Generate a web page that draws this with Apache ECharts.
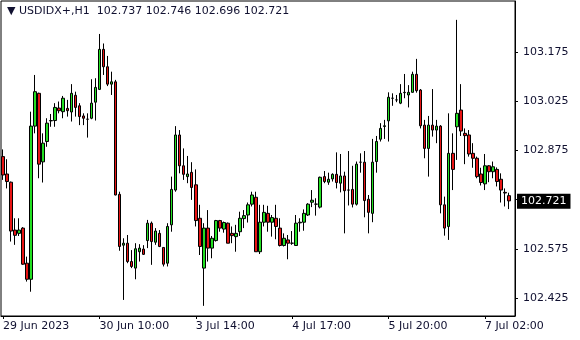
<!DOCTYPE html>
<html>
<head>
<meta charset="utf-8">
<script src="https://cdn.jsdelivr.net/npm/echarts@6/dist/echarts.min.js"></script>
<style>html,body{margin:0;padding:0;background:#fff}#c{width:580px;height:340px}</style>
</head>
<body>
<div id="c"></div>
<script>
const symbolName = 'USDIDX+,H1';
const opens = [102.856,102.803,102.778,102.632,102.622,102.638,102.531,102.482,102.949,103.049,
102.840,102.902,102.965,102.966,103.004,102.993,103.003,102.992,103.043,103.011,
102.980,102.970,102.973,103.022,103.061,103.183,103.130,103.077,103.084,102.741,
102.586,102.592,102.536,102.516,102.566,102.574,102.600,102.653,102.595,102.622,
102.579,102.531,102.648,102.754,102.922,102.828,102.795,102.808,102.770,102.668,
102.516,102.638,102.577,102.600,102.661,102.635,102.653,102.622,102.612,102.627,
102.667,102.678,102.711,102.732,102.566,102.656,102.683,102.656,102.668,102.638,
102.585,102.602,102.592,102.585,102.654,102.656,102.678,102.717,102.711,102.702,
102.795,102.778,102.788,102.802,102.775,102.797,102.754,102.756,102.711,102.839,
102.839,102.726,102.683,102.841,102.909,102.948,102.965,103.034,103.029,103.019,
103.051,103.044,103.052,103.107,103.059,102.952,102.881,102.952,102.937,102.949,
102.709,102.643,102.866,102.947,102.998,102.927,102.922,102.866,102.851,102.803,
102.773,102.828,102.810,102.817,102.787,102.747,102.737];
const highs = [102.878,102.848,102.780,102.668,102.668,102.641,102.551,102.993,103.105,103.051,
102.927,102.973,102.986,103.019,103.024,103.041,103.029,103.077,103.054,103.019,
102.988,102.988,103.092,103.095,103.230,103.201,103.163,103.115,103.090,102.749,
102.607,102.617,102.571,102.592,102.589,102.586,102.663,102.658,102.638,102.632,
102.580,102.653,102.795,102.949,102.937,102.881,102.858,102.839,102.817,102.709,
102.653,102.693,102.614,102.663,102.663,102.658,102.655,102.643,102.648,102.688,
102.693,102.716,102.749,102.749,102.709,102.709,102.706,102.678,102.709,102.668,
102.622,102.617,102.629,102.678,102.668,102.695,102.714,102.754,102.729,102.795,
102.812,102.807,102.805,102.869,102.864,102.810,102.873,102.828,102.841,102.866,
102.873,102.739,102.910,102.919,102.958,102.968,103.052,103.049,103.044,103.077,
103.108,103.074,103.115,103.154,103.062,102.968,102.980,103.062,102.968,102.952,
102.734,102.988,102.927,103.273,103.077,102.942,102.937,102.897,102.856,102.822,
102.864,102.830,102.841,102.823,102.805,102.759,102.746];
const lows = [102.785,102.759,102.597,102.587,102.614,102.526,102.475,102.444,102.927,102.790,
102.777,102.886,102.947,102.947,102.988,102.973,102.978,102.963,102.978,102.952,
102.952,102.914,102.970,102.966,103.059,103.105,103.071,103.044,102.738,102.569,
102.419,102.531,102.516,102.482,102.536,102.556,102.577,102.526,102.587,102.580,
102.521,102.521,102.627,102.749,102.805,102.785,102.775,102.724,102.643,102.556,
102.401,102.536,102.546,102.597,102.627,102.624,102.592,102.592,102.566,102.614,
102.638,102.655,102.704,102.566,102.559,102.643,102.627,102.612,102.604,102.582,
102.582,102.543,102.587,102.585,102.627,102.630,102.675,102.702,102.676,102.698,
102.775,102.770,102.780,102.759,102.747,102.622,102.707,102.701,102.707,102.807,
102.671,102.622,102.656,102.807,102.902,102.910,102.902,103.011,103.022,103.016,
103.034,103.006,103.051,103.051,102.942,102.851,102.795,102.917,102.897,102.683,
102.615,102.602,102.754,102.846,102.919,102.833,102.856,102.822,102.790,102.768,
102.754,102.778,102.790,102.765,102.716,102.704,102.696];
const closes = [102.800,102.780,102.629,102.616,102.632,102.528,102.482,102.949,103.054,102.833,
102.897,102.958,102.966,103.006,102.996,103.034,102.996,103.049,103.006,102.978,
102.973,102.970,103.019,103.067,103.183,103.130,103.077,103.084,102.739,102.582,
102.592,102.536,102.521,102.575,102.577,102.558,102.653,102.597,102.629,102.582,
102.528,102.643,102.756,102.922,102.828,102.802,102.803,102.762,102.661,102.582,
102.638,102.577,102.607,102.661,102.638,102.655,102.592,102.615,102.622,102.668,
102.676,102.709,102.739,102.566,102.656,102.686,102.656,102.670,102.643,102.585,
102.607,102.592,102.592,102.653,102.656,102.683,102.711,102.723,102.711,102.793,
102.780,102.787,102.802,102.777,102.797,102.752,102.754,102.711,102.833,102.839,
102.722,102.686,102.839,102.902,102.942,102.950,103.037,103.034,103.029,103.049,
103.052,103.052,103.107,103.057,102.950,102.881,102.952,102.937,102.949,102.709,
102.638,102.866,102.817,102.988,102.934,102.920,102.864,102.851,102.795,102.777,
102.828,102.810,102.825,102.780,102.754,102.745,102.721];
const timeTickIndex = [0, 24, 48, 72, 96, 120];
const timeTickLabels = ['29 Jun 2023', '30 Jun 10:00', '3 Jul 14:00', '4 Jul 17:00', '5 Jul 20:00', '7 Jul 02:00'];
const priceTicks = [102.425, 102.575, 102.725, 102.875, 103.025, 103.175];
const priceTickLabels = ['102.425', '102.575', '', '102.875', '103.025', '103.175'];
const currentPrice = 102.721;

const n = opens.length;
const cats = [];
for (let i = 0; i < n + 1; i++) cats.push(String(i));
const data = opens.map((o, i) => [o, closes[i], lows[i], highs[i]]);
const last = n - 1;
const fmt = v => v.toFixed(3);
const header = '\u25BC ' + symbolName + '  ' + fmt(opens[last]) + ' ' + fmt(highs[last]) + ' ' + fmt(lows[last]) + ' ' + fmt(closes[last]);
const txt = '#101030';
const font = 'DejaVu Sans';

const chart = echarts.init(document.getElementById('c'), null, {renderer: 'canvas'});
chart.setOption({
  animation: false,
  backgroundColor: '#fff',
  title: {
    text: header, left: 7, top: 6, padding: 0,
    textStyle: {fontFamily: font, fontSize: 11, fontWeight: 'normal', color: txt}
  },
  grid: {left: 1, top: 1, width: 514, height: 315, show: true, borderColor: '#000', borderWidth: 1, backgroundColor: '#fff'},
  xAxis: {
    type: 'category', data: cats, boundaryGap: true,
    axisLine: {show: true, lineStyle: {color: '#000', width: 1}},
    axisTick: {show: true, alignWithLabel: true, length: 3, lineStyle: {color: '#000'},
      interval: (idx) => timeTickIndex.indexOf(idx) >= 0},
    axisLabel: {
      show: true, interval: (idx) => timeTickIndex.indexOf(idx) >= 0,
      formatter: (v, idx) => { const k = timeTickIndex.indexOf(idx); return k >= 0 ? timeTickLabels[k] : ''; },
      align: 'left', margin: 5, color: txt, fontFamily: font, fontSize: 11
    },
    splitLine: {show: false}
  },
  yAxis: {
    type: 'value', position: 'right', min: 102.370, max: 103.3305, scale: true,
    axisLine: {show: true, lineStyle: {color: '#000', width: 1}},
    axisTick: {show: true, length: 3, inside: false, lineStyle: {color: '#000'}, customValues: priceTicks},
    axisLabel: {
      show: true, customValues: priceTicks, margin: 8, color: txt, fontFamily: font, fontSize: 11,
      formatter: (v) => { const k = priceTicks.findIndex(p => Math.abs(p - v) < 1e-6); return k >= 0 ? priceTickLabels[k] : ''; }
    },
    splitLine: {show: false}
  },
  series: [{
    type: 'candlestick',
    data: data,
    barWidth: 3,
    itemStyle: {
      color: '#22e022', color0: '#e81414',
      borderColor: '#000', borderColor0: '#000', borderColorDoji: '#000', borderWidth: 1
    },
    markLine: {
      silent: true, symbol: ['none', 'none'],
      lineStyle: {color: 'rgba(0,0,0,0)', width: 0},
      label: {
        show: true, position: 'end', distance: 2,
        formatter: () => fmt(currentPrice),
        backgroundColor: '#000', color: '#fff', fontFamily: font, fontSize: 11,
        padding: [2, 4, 1, 4], lineHeight: 12
      },
      data: [{yAxis: currentPrice}]
    }
  }]
});
</script>
</body>
</html>
